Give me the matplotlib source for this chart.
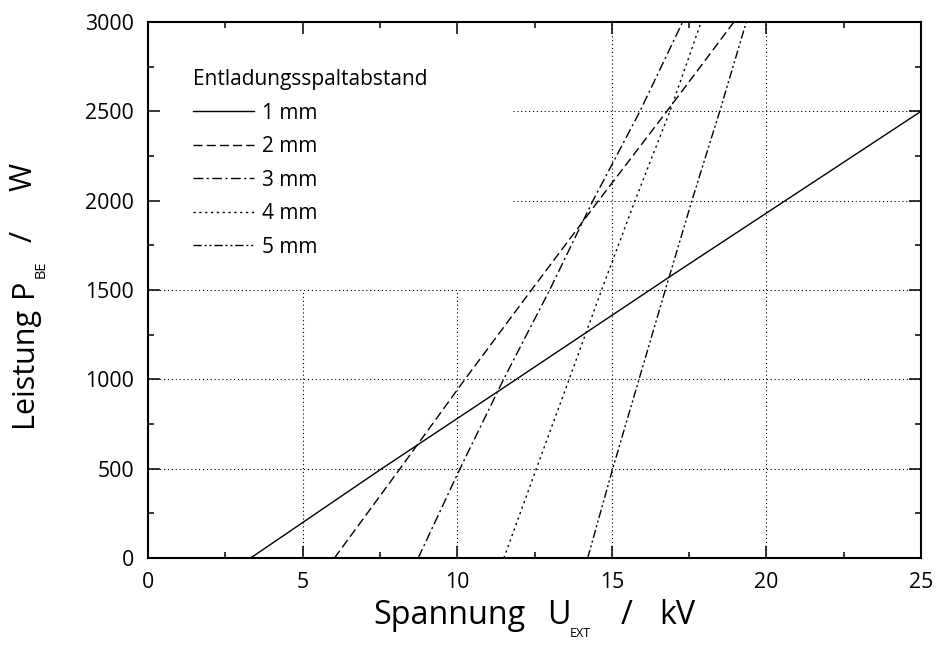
import matplotlib
matplotlib.use("Agg")
import matplotlib.pyplot as plt
from matplotlib.ticker import MultipleLocator
from matplotlib.transforms import IdentityTransform

plt.rcParams['font.family'] = ['Open Sans', 'DejaVu Sans']

# ---------------- data ----------------
u_1mm = [3.32, 7.56, 11.44, 16.94, 25.0]
p_1mm = [0, 500, 946, 1582, 2500]

power_levels = [0, 500, 1000, 1500, 2000, 2500, 3000]
u_2mm = [6.03, 8.15, 10.25, 12.40, 14.57, 16.78, 18.95]
u_3mm = [8.74, 10.09, 11.50, 12.99, 14.39, 15.91, 17.29]
u_4mm = [11.51, 12.56, 13.62, 14.67, 15.75, 16.88, 17.89]
u_5mm = [14.22, 15.03, 15.88, 16.73, 17.59, 18.49, 19.35]

labels = ["1 mm", "2 mm", "3 mm", "4 mm", "5 mm"]
legend_title = "Entladungsspaltabstand"
x_ticks = [0, 5, 10, 15, 20, 25]
y_ticks = [0, 500, 1000, 1500, 2000, 2500, 3000]

# ---------------- figure ----------------
W, H = 938, 659
fig = plt.figure(figsize=(W / 100, H / 100), dpi=100)
ax = fig.add_axes([148 / W, (H - 558) / H, (921 - 148) / W, (558 - 22) / H])

styles = ['-', (0, (6.5, 3)), (0, (7, 2.5, 1.5, 2.5)), (0, (1.6, 2.6)),
          (0, (6, 2, 1.5, 2, 1.5, 2))]
series = [(u_1mm, p_1mm), (u_2mm, power_levels), (u_3mm, power_levels),
          (u_4mm, power_levels), (u_5mm, power_levels)]
handles = []
for (u, p), ls, lab in zip(series, styles, labels):
    h, = ax.plot(u, p, color='black', lw=1.0, linestyle=ls, label=lab,
                 zorder=3, clip_on=True)
    handles.append(h)

# partial dotted grid (hidden behind the legend area in the original)
gkw = dict(color='black', lw=0.8, linestyle=(0, (1, 2.5)), zorder=1)
ax.vlines([5, 10], 0, 1500, **gkw)
ax.vlines([15, 20], 0, 3000, **gkw)
ax.hlines([500, 1000, 1500], 0, 25, **gkw)
ax.hlines([2000, 2500], 11.8, 25, **gkw)

ax.set_xlim(0, 25)
ax.set_ylim(0, 3000)
ax.set_xticks(x_ticks)
ax.set_yticks(y_ticks)
ax.xaxis.set_minor_locator(MultipleLocator(2.5))
ax.yaxis.set_minor_locator(MultipleLocator(250))
ax.tick_params(which='both', direction='in', top=True, right=True,
               labelsize=15.3, colors='black')
ax.tick_params(which='major', length=8.6, width=1.1, pad=10)
ax.tick_params(which='minor', length=4.3, width=1.1)
for s in ax.spines.values():
    s.set_linewidth(1.5)

leg = ax.legend(handles=handles, title=legend_title, loc='upper left',
                bbox_to_anchor=(0.058, 0.912), frameon=False, fontsize=15,
                title_fontsize=15, handlelength=2.95, handletextpad=0.35,
                labelspacing=0.6, borderpad=0, borderaxespad=0,
                alignment='left')

# ---------------- axis labels built from pieces ----------------
renderer = fig.canvas.get_renderer()


def width_of(s, size):
    t = fig.text(0, 0, s, fontsize=size, transform=IdentityTransform())
    w = t.get_window_extent(renderer).width
    t.remove()
    return w


BIG_X, BIG_Y, SUB_X, SUB_Y = 23.2, 22, 9, 10.5
# (text, size, gap_before_px, baseline_drop_px)
xpieces = [("Spannung", BIG_X, 0, 0), ("U", BIG_X, 22, 0),
           ("EXT", SUB_X, -1, 13), ("/", BIG_X, 30, 0), ("kV", BIG_X, 27, 0)]
total = sum(width_of(s, sz) + g for s, sz, g, d in xpieces)
cx = (148 + 921) / 2
x = cx - total / 2
base_y = H - 624
for s, sz, g, d in xpieces:
    x += g
    fig.text(x, base_y - d, s, fontsize=sz, ha='left', va='baseline',
             transform=IdentityTransform())
    x += width_of(s, sz)

ypieces = [("Leistung", BIG_Y, 0, 0), ("P", BIG_Y, 10, 0),
           ("BE", SUB_Y, 1, 13), ("/", BIG_Y, 18, 0), ("W", BIG_Y, 40, 0)]
total = sum(width_of(s, sz) + g for s, sz, g, d in ypieces)
cy = H - (22 + 558) / 2 - 5
y = cy - total / 2
base_x = 32
for s, sz, g, d in ypieces:
    y += g
    fig.text(base_x + d, y, s, fontsize=sz, ha='left', va='baseline',
             rotation=90, rotation_mode='anchor',
             transform=IdentityTransform())
    y += width_of(s, sz)

fig.savefig("out.png", dpi=100)
